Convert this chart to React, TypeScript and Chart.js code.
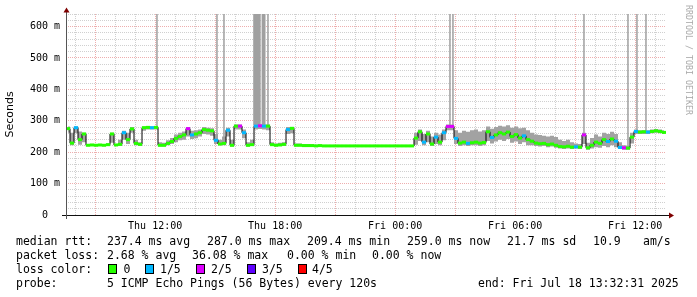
import React, { useEffect, useRef } from "react";
import { Chart, registerables } from "chart.js";

Chart.register(...registerables);

// Time axis: hours since Thu 00:00 (graph ends Fri 13:32:31, spans 30 h)
const START_HOUR = 7.542;
const END_HOUR = 37.542;
const STEP_HOURS = 0.2;

// median RTT (ms), one value per 12-minute step
const medianRtt = [
  275, 229, 278, 240, 258, 222, 223, 222, 223, 222,
  224, 258, 223, 225, 262, 240, 274, 228, 225, 278,
  279, 278, 279, 222, 222, 228, 234, 244, 250, 255,
  275, 255, 258, 262, 272, 270, 268, 238, 226, 228,
  270, 222, 283, 283, 262, 222, 224, 283, 284, 283,
  283, 224, 222, 223, 225, 272, 276, 222, 222, 221,
  221, 221, 220, 221, 220, 220, 220, 220, 220, 220,
  220, 220, 220, 220, 220, 220, 220, 220, 220, 220,
  220, 220, 220, 220, 220, 220, 220, 245, 265, 232,
  258, 226, 248, 232, 262, 282, 282, 244, 229, 232,
  228, 230, 232, 229, 231, 265, 247, 255, 262, 258,
  264, 250, 256, 245, 252, 240, 235, 229, 227, 228,
  224, 226, 222, 218, 217, 219, 216, 217, 216, 255,
  214, 222, 232, 228, 240, 234, 242, 235, 215, 214,
  213, 248, 266, 264, 265, 264, 266, 268, 266, 263,
];

// highest ping of each step (ms)
const pingHigh = [
  282, 262, 282, 266, 262, 226, 226, 225, 226, 225,
  228, 262, 226, 240, 268, 262, 280, 240, 232, 282,
  283, 282, 283, 232, 230, 238, 245, 256, 262, 266,
  280, 268, 270, 272, 280, 278, 276, 258, 240, 250,
  278, 240, 288, 288, 272, 232, 240, 288, 288, 288,
  288, 232, 228, 230, 232, 280, 280, 228, 228, 226,
  226, 225, 224, 224, 222, 222, 222, 222, 221, 221,
  221, 221, 221, 221, 221, 221, 221, 221, 221, 221,
  221, 221, 221, 221, 221, 221, 221, 262, 272, 258,
  268, 250, 262, 256, 272, 288, 288, 270, 262, 268,
  265, 270, 272, 266, 270, 282, 275, 280, 284, 282,
  286, 278, 282, 276, 278, 270, 262, 256, 255, 252,
  250, 252, 248, 240, 236, 240, 232, 228, 226, 262,
  230, 245, 256, 250, 262, 258, 265, 258, 232, 222,
  220, 262, 272, 270, 270, 270, 272, 274, 272, 270,
];

// lowest ping of each step (ms)
const pingLow = [
  262, 222, 260, 224, 232, 220, 220, 220, 220, 220,
  220, 230, 220, 220, 240, 226, 262, 222, 220, 268,
  272, 272, 272, 218, 218, 222, 226, 232, 238, 240,
  250, 242, 244, 250, 258, 256, 252, 226, 222, 222,
  250, 218, 272, 272, 244, 218, 220, 272, 274, 272,
  270, 220, 219, 220, 220, 258, 260, 219, 219, 219,
  219, 219, 219, 219, 219, 219, 219, 219, 219, 219,
  219, 219, 219, 219, 219, 219, 219, 219, 219, 219,
  219, 219, 219, 219, 219, 219, 219, 224, 236, 222,
  232, 220, 226, 222, 238, 270, 270, 226, 220, 222,
  220, 222, 222, 220, 222, 236, 228, 234, 240, 236,
  242, 230, 234, 226, 232, 222, 222, 220, 218, 220,
  216, 218, 214, 212, 210, 212, 210, 212, 210, 226,
  208, 212, 216, 214, 220, 216, 222, 216, 210, 208,
  208, 228, 258, 258, 258, 258, 260, 262, 260, 258,
];

// lost pings out of 5 for each step
const lossCount = [
  0, 0, 1, 0, 0, 0, 0, 0, 0, 0,
  0, 0, 0, 0, 1, 0, 0, 0, 0, 0,
  0, 1, 0, 0, 0, 0, 0, 0, 0, 0,
  2, 1, 0, 0, 0, 0, 0, 1, 0, 0,
  1, 0, 0, 2, 1, 0, 0, 1, 2, 1,
  0, 0, 0, 0, 0, 1, 0, 0, 0, 0,
  0, 0, 0, 0, 0, 0, 0, 0, 0, 0,
  0, 0, 0, 0, 0, 0, 0, 0, 0, 0,
  0, 0, 0, 0, 0, 0, 0, 0, 0, 1,
  0, 0, 1, 0, 1, 2, 2, 1, 0, 0,
  1, 0, 0, 0, 0, 0, 1, 0, 0, 0,
  0, 0, 0, 0, 1, 0, 0, 0, 0, 0,
  0, 0, 0, 0, 0, 0, 0, 1, 0, 2,
  0, 0, 0, 0, 0, 1, 0, 1, 1, 2,
  0, 0, 1, 0, 0, 1, 0, 0, 0, 0,
];

// single pings far above the scale (time in hours, from median to max in ms)
const spikeTimes = [12.09, 15.09, 15.44, 16.94, 17.0, 17.06, 17.12, 17.18, 17.24, 17.36, 17.42, 17.48, 17.64, 26.74, 26.89, 33.44, 35.64, 36.09, 36.54];
const spikeBase = [278, 232, 230, 284, 285, 285, 285, 285, 284, 285, 285, 284, 283, 282, 282, 255, 214, 265, 264];
const spikeTop = [1200, 1100, 1000, 1400, 1500, 1300, 1450, 1350, 1200, 1250, 1300, 1150, 900, 1100, 1000, 950, 1300, 1200, 1000];

const lossColors = ["#26ff00", "#00b8ff", "#dd00ff", "#5e00ff", "#ff0000"];
const lossLabels = ["0", "1/5", "2/5", "3/5", "4/5"];

const xLabelHours = [12, 18, 24, 30, 36];
const xLabelTexts = ["Thu 12:00", "Thu 18:00", "Fri 00:00", "Fri 06:00", "Fri 12:00"];

const MINOR_GRID = "rgba(170,170,170,0.55)";
const MAJOR_GRID = "rgba(226,120,120,0.6)";
const MONO = "'DejaVu Sans Mono', monospace";

const rrdAxes = {
  id: "rrdAxes",
  beforeDraw(chart: any) {
    const ctx = chart.ctx;
    ctx.save();
    ctx.fillStyle = "#ffffff";
    ctx.fillRect(0, 0, chart.width, chart.height);
    ctx.restore();
  },
  afterDatasetsDraw(chart: any) {
    const { ctx, chartArea } = chart;
    const { left, right, top, bottom } = chartArea;
    ctx.save();
    ctx.lineWidth = 1;
    ctx.strokeStyle = "#101010";
    ctx.beginPath();
    ctx.moveTo(left - 4, bottom + 0.5);
    ctx.lineTo(right + 4, bottom + 0.5);
    ctx.stroke();
    ctx.strokeStyle = "#555555";
    ctx.beginPath();
    ctx.moveTo(left + 0.5, bottom + 4);
    ctx.lineTo(left + 0.5, top - 2);
    ctx.stroke();
    ctx.fillStyle = "#7f0000";
    ctx.beginPath();
    ctx.moveTo(right + 3, bottom - 2.5);
    ctx.lineTo(right + 3, bottom + 3.5);
    ctx.lineTo(right + 8, bottom + 0.5);
    ctx.closePath();
    ctx.fill();
    ctx.beginPath();
    ctx.moveTo(left - 2.5, top - 1.5);
    ctx.lineTo(left + 3.5, top - 1.5);
    ctx.lineTo(left + 0.5, top - 6.5);
    ctx.closePath();
    ctx.fill();
    ctx.restore();
  },
};

export default function App() {
  const ref = useRef<HTMLCanvasElement>(null);

  useEffect(() => {
    const xs = medianRtt.map((_, i) => START_HOUR + (i + 0.5) * STEP_HOURS);
    const pts = (arr: number[]) => arr.map((v, i) => ({ x: xs[i], y: v }));
    const spikeData: any[] = [];
    spikeTimes.forEach((t, i) => {
      spikeData.push({ x: t, y: spikeBase[i] }, { x: t, y: spikeTop[i] }, { x: t, y: null });
    });
    const gridHours: number[] = [];
    for (let h = Math.ceil(START_HOUR); h <= END_HOUR; h++) gridHours.push(h);

    const chart = new Chart(ref.current as HTMLCanvasElement, {
      type: "line",
      data: {
        datasets: [
          {
            data: pts(pingHigh),
            stepped: "middle",
            borderWidth: 0,
            pointRadius: 0,
            fill: "+1",
            backgroundColor: "#a2a2a2",
            order: 4,
          },
          {
            data: pts(pingLow),
            stepped: "middle",
            borderWidth: 0,
            pointRadius: 0,
            fill: false,
            order: 4,
          },
          {
            data: spikeData,
            borderColor: "#a0a0a0",
            borderWidth: 1.5,
            pointRadius: 0,
            spanGaps: false,
            fill: false,
            order: 3,
          },
          {
            data: pts(medianRtt),
            stepped: "middle",
            borderColor: "#000000",
            borderWidth: 1,
            pointRadius: 0,
            fill: false,
            order: 2,
          },
          {
            data: pts(medianRtt),
            showLine: false,
            pointStyle: "line",
            pointRadius: 2.1,
            pointBorderWidth: 3,
            pointBorderColor: lossCount.map((l) => lossColors[l]),
            pointBackgroundColor: lossCount.map((l) => lossColors[l]),
            order: 1,
          },
        ],
      } as any,
      options: {
        responsive: false,
        animation: false,
        devicePixelRatio: 1,
        events: [],
        layout: { padding: { left: 0, right: 31, top: 14, bottom: 0 } },
        plugins: { legend: { display: false }, tooltip: { enabled: false } },
        scales: {
          x: {
            type: "linear",
            min: START_HOUR,
            max: END_HOUR,
            afterBuildTicks: (s: any) => {
              s.ticks = gridHours.map((v) => ({ value: v }));
            },
            afterFit: (s: any) => {
              s.height = 82;
            },
            ticks: {
              autoSkip: false,
              maxRotation: 0,
              padding: 5,
              color: "#000",
              font: { family: MONO, size: 10 },
              callback: (v: any) => {
                const k = xLabelHours.indexOf(Number(v));
                return k >= 0 ? xLabelTexts[k] : "";
              },
            },
            grid: {
              drawTicks: false,
              lineWidth: 1,
              color: (c: any) => (c.tick && c.tick.value % 3 === 0 ? MAJOR_GRID : MINOR_GRID),
            },
            border: { display: false, dash: [1, 1] },
          },
          y: {
            type: "linear",
            min: 0,
            max: 640,
            afterFit: (s: any) => {
              s.width = 66;
            },
            ticks: {
              stepSize: 20,
              autoSkip: false,
              padding: 6,
              color: "#000",
              font: { family: MONO, size: 10 },
              callback: (v: any) => {
                const n = Number(v);
                if (n === 0) return "0  ";
                return n % 100 === 0 ? `${n} m` : "";
              },
            },
            grid: {
              drawTicks: false,
              lineWidth: 1,
              color: (c: any) => (c.tick && c.tick.value % 100 === 0 ? MAJOR_GRID : MINOR_GRID),
            },
            border: { display: false, dash: [1, 1] },
            title: {
              display: true,
              text: "Seconds",
              color: "#000",
              font: { family: "'DejaVu Sans', sans-serif", size: 11 },
              padding: { top: 4, bottom: 4 },
            },
          },
        },
      } as any,
      plugins: [rrdAxes],
    });
    return () => chart.destroy();
  }, []);

  const text = (s: string, left: number, cy: number, key?: string) => (
    <span
      key={key}
      style={{
        position: "absolute",
        left,
        top: cy - 7.3,
        height: 14,
        lineHeight: "14px",
        fontFamily: MONO,
        fontSize: 11.5,
        color: "#000",
        whiteSpace: "pre",
      }}
    >
      {s}
    </span>
  );

  const boxLefts = [108, 145, 196, 247, 298];
  const labelLefts = [123.5, 160, 211, 262, 312];

  return (
    <div style={{ position: "fixed", left: 0, top: 0, width: 697, height: 297, background: "#fff", overflow: "hidden" }}>
      <canvas ref={ref} width={697} height={297} style={{ position: "absolute", left: 0, top: 0, width: 697, height: 297 }} />
      {text("median rtt:", 16, 241)}
      {text("237.4 ms avg", 107, 241)}
      {text("287.0 ms max", 207, 241)}
      {text("209.4 ms min", 307, 241)}
      {text("259.0 ms now", 407, 241)}
      {text("21.7 ms sd", 507, 241)}
      {text("10.9", 593, 241)}
      {text("am/s", 643, 241)}
      {text("packet loss:", 16, 255)}
      {text("2.68 % avg", 107, 255)}
      {text("36.08 % max", 192, 255)}
      {text("0.00 % min", 287, 255)}
      {text("0.00 % now", 372, 255)}
      {text("loss color:", 16, 269)}
      {lossLabels.map((lab, i) => (
        <React.Fragment key={lab}>
          <span
            style={{
              position: "absolute",
              left: boxLefts[i],
              top: 264,
              width: 9,
              height: 10,
              boxSizing: "border-box",
              border: "1px solid #000",
              background: lossColors[i],
            }}
          />
          {text(lab, labelLefts[i], 269)}
        </React.Fragment>
      ))}
      {text("probe:", 16, 283)}
      {text("5 ICMP Echo Pings (56 Bytes) every 120s", 107, 283)}
      {text("end: Fri Jul 18 13:32:31 2025", 478, 283)}
      <div
        style={{
          position: "absolute",
          left: 694,
          top: 5,
          transform: "rotate(90deg)",
          transformOrigin: "left top",
          fontFamily: MONO,
          fontSize: 8.3,
          lineHeight: "10px",
          color: "#aaaaaa",
          whiteSpace: "pre",
        }}
      >
        RRDTOOL / TOBI OETIKER
      </div>
    </div>
  );
}
